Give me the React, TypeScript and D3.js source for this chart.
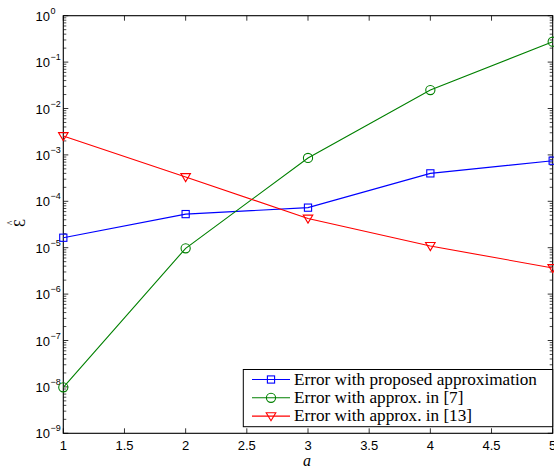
import React from "react";
import * as d3 from "d3";

const xValues = [1, 2, 3, 4, 5];
const blueValues = [1.64e-5, 5.3e-5, 7.3e-5, 4.0e-4, 7.5e-4];
const greenValues = [9.8e-9, 9.7e-6, 8.6e-4, 2.5e-2, 0.275];
const redValues = [2.55e-3, 3.34e-4, 4.26e-5, 1.09e-5, 3.65e-6];
const xTicks = [1, 1.5, 2, 2.5, 3, 3.5, 4, 4.5, 5];
const yExponents = [0, -1, -2, -3, -4, -5, -6, -7, -8, -9];
const legendLabels = [
  "Error with proposed approximation",
  "Error with approx. in [7]",
  "Error with approx. in [13]",
];

const W = 554, H = 468;
const L = 63.3, R = 552.7, T = 15.7, B = 433.3;

export default function App() {
  const x = d3.scaleLinear().domain([1, 5]).range([L, R]);
  const y = d3.scaleLog().domain([1e-9, 1]).range([B, T]);
  const line = d3.line<[number, number]>().x(d => x(d[0])).y(d => y(d[1]));

  const minor: number[] = [];
  for (let e = -9; e < 0; e++) for (let m = 2; m <= 9; m++) minor.push(m * Math.pow(10, e));

  const series = [
    { vals: blueValues, color: "#0000ff", marker: "square" },
    { vals: greenValues, color: "#008000", marker: "circle" },
    { vals: redValues, color: "#ff0000", marker: "tri" },
  ];

  const drawMarker = (m: string, cx: number, cy: number, color: string, key: any) => {
    if (m === "square") return <rect key={key} x={cx - 3.6} y={cy - 3.6} width={7.2} height={7.2} fill="none" stroke={color} strokeWidth={1.1} />;
    if (m === "circle") return <circle key={key} cx={cx} cy={cy} r={4.6} fill="none" stroke={color} strokeWidth={1.1} />;
    return <path key={key} d={`M${cx - 4.8},${cy - 3.4}L${cx + 4.8},${cy - 3.4}L${cx},${cy + 4.6}Z`} fill="none" stroke={color} strokeWidth={1.1} />;
  };

  return (
    <svg width={W} height={H} style={{ position: "absolute", left: 0, top: 0, background: "#fff" }}>
      <rect x={0} y={0} width={W} height={H} fill="#fff" />
      <defs>
        <clipPath id="pc"><rect x={L - 6} y={T - 6} width={R - L + 12} height={B - T + 12} /></clipPath>
      </defs>
      {xTicks.map((t, i) => (
        <g key={"xt" + i}>
          <line x1={x(t)} x2={x(t)} y1={B} y2={B - 5} stroke="#000" strokeWidth={0.8} />
          <line x1={x(t)} x2={x(t)} y1={T} y2={T + 5} stroke="#000" strokeWidth={0.8} />
          <text x={x(t)} y={B + 17} fontFamily="Liberation Sans, Arial, sans-serif" fontSize={13} textAnchor="middle">{t}</text>
        </g>
      ))}
      {yExponents.map((e, i) => (
        <g key={"yt" + i}>
          <line x1={L} x2={L + 5} y1={y(Math.pow(10, e))} y2={y(Math.pow(10, e))} stroke="#000" strokeWidth={0.8} />
          <line x1={R} x2={R - 5} y1={y(Math.pow(10, e))} y2={y(Math.pow(10, e))} stroke="#000" strokeWidth={0.8} />
          <text x={50} y={y(Math.pow(10, e)) + 5} fontFamily="Liberation Sans, Arial, sans-serif" fontSize={13} textAnchor="end">10</text>
          <text x={50.5} y={y(Math.pow(10, e)) - 2} fontFamily="Liberation Sans, Arial, sans-serif" fontSize={9} textAnchor="start">{e === 0 ? "0" : "\u2212" + Math.abs(e)}</text>
        </g>
      ))}
      {minor.map((v, i) => (
        <g key={"mn" + i}>
          <line x1={L} x2={L + 3} y1={y(v)} y2={y(v)} stroke="#000" strokeWidth={0.7} />
          <line x1={R} x2={R - 3} y1={y(v)} y2={y(v)} stroke="#000" strokeWidth={0.7} />
        </g>
      ))}
      <rect x={L} y={T} width={R - L} height={B - T} fill="none" stroke="#000" strokeWidth={1.1} />
      <g clipPath="url(#pc)">
        {series.map((s, si) => (
          <g key={"s" + si}>
            <path d={line(xValues.map((xv, i) => [xv, s.vals[i]]) as [number, number][]) || ""} fill="none" stroke={s.color} strokeWidth={1.1} />
            {xValues.map((xv, i) => drawMarker(s.marker, x(xv), y(s.vals[i]), s.color, i))}
          </g>
        ))}
      </g>
      <rect x={243.3} y={369.5} width={R - 243.3} height={57.2} fill="#fff" stroke="#000" strokeWidth={1} />
      {legendLabels.map((lab, i) => {
        const ly = 379.5 + i * 18.3;
        const s = series[i];
        return (
          <g key={"lg" + i}>
            <line x1={252} x2={290} y1={ly} y2={ly} stroke={s.color} strokeWidth={1.1} />
            {drawMarker(s.marker, 271, ly, s.color, "m")}
            <text x={294} y={ly + 5} fontFamily="Liberation Serif, Times New Roman, serif" fontSize={17.2}>{lab}</text>
          </g>
        );
      })}
      <text x={307} y={466} fontFamily="Liberation Serif, serif" fontStyle="italic" fontSize={16} textAnchor="middle">a</text>
      <g transform="translate(25,223) rotate(-90)">
        <text x={0} y={0} fontFamily="Liberation Serif, serif" fontSize={16} textAnchor="middle">Ɛ</text>
        <text x={0} y={-11} fontFamily="Liberation Serif, serif" fontSize={10} textAnchor="middle">^</text>
      </g>
    </svg>
  );
}
